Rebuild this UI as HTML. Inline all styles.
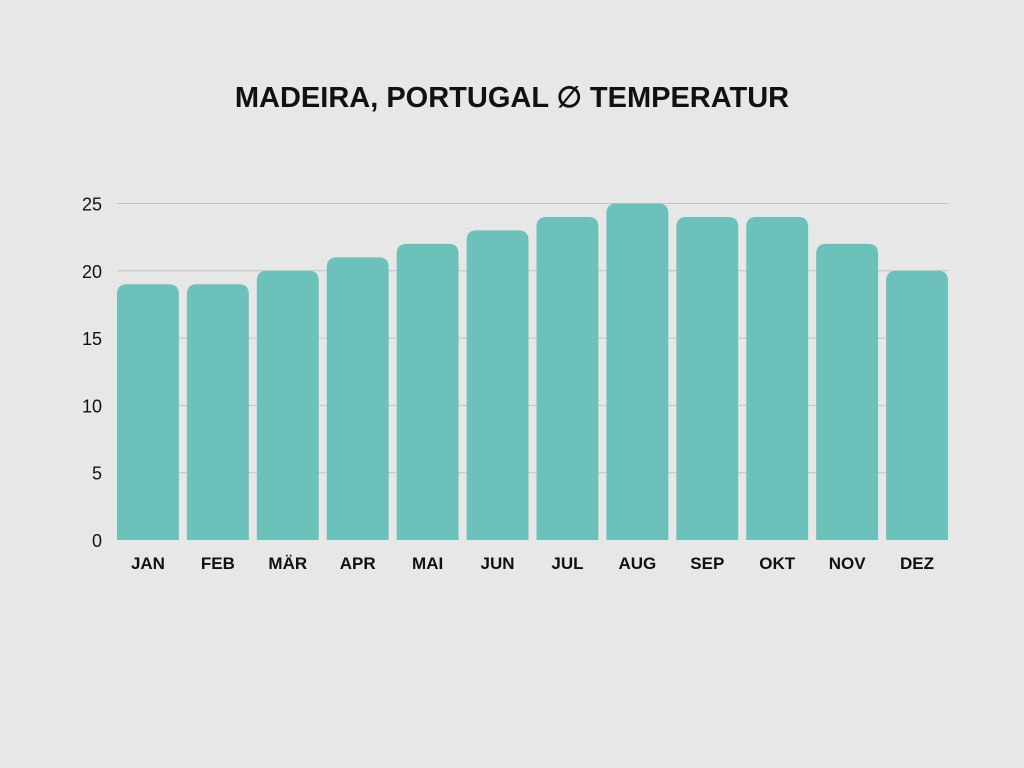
<!DOCTYPE html>
<html><head><meta charset="utf-8"><style>
body{margin:0;background:#e7e7e7;}
svg{display:block;font-family:"Liberation Sans",sans-serif;}
</style></head><body>
<svg id="chart" width="1024" height="768">
<rect width="1024" height="768" fill="#e7e7e7"/>
<text x="512" y="107" text-anchor="middle" font-size="29" font-weight="bold" fill="#111">MADEIRA, PORTUGAL ∅ TEMPERATUR</text>
<g id="grid"></g><g id="bars"></g><g id="labels"></g>
</svg>
<script>
const categories=["JAN","FEB","MÄR","APR","MAI","JUN","JUL","AUG","SEP","OKT","NOV","DEZ"];
const temps=[19,19,20,21,22,23,24,25,24,24,22,20];
const yTicks=[0,5,10,15,20,25];
const ns="http://www.w3.org/2000/svg";
const x0=117,x1=948,y0=540,yTop=203.5,yMax=25,pitch=(x1-x0+8)/categories.length,bw=pitch-8;
const y=v=>y0-(y0-yTop)*v/yMax;
const xb=i=>x0+i*pitch;
const g=document.getElementById('grid'),b=document.getElementById('bars'),l=document.getElementById('labels');
yTicks.forEach(t=>{
 if(t>0){const ln=document.createElementNS(ns,'line');
 ln.setAttribute('x1',x0);ln.setAttribute('x2',x1);ln.setAttribute('y1',y(t));ln.setAttribute('y2',y(t));
 ln.setAttribute('stroke','#c4c4c4');ln.setAttribute('stroke-width','1');
 
 
 g.appendChild(ln);}
 const tx=document.createElementNS(ns,'text');
 tx.setAttribute('x',102);tx.setAttribute('y',y(t)+7);tx.setAttribute('text-anchor','end');
 tx.setAttribute('font-size','18');tx.setAttribute('fill','#111');tx.textContent=t;
 
 
 l.appendChild(tx);
});
temps.forEach((v,i)=>{
 const top=y(v),h=y0-top,r=10,x=xb(i);
 const p=document.createElementNS(ns,'path');
 p.setAttribute('d',`M${x},${y0}V${top+r}Q${x},${top} ${x+r},${top}H${x+bw-r}Q${x+bw},${top} ${x+bw},${top+r}V${y0}Z`);
 p.setAttribute('fill','#6cc2bb');
 
 
 b.appendChild(p);
 const tx=document.createElementNS(ns,'text');
 tx.setAttribute('x',x+bw/2);tx.setAttribute('y',569);tx.setAttribute('text-anchor','middle');
 tx.setAttribute('font-size','17');tx.setAttribute('font-weight','bold');tx.setAttribute('fill','#111');
 tx.textContent=categories[i];
 
 
 l.appendChild(tx);
});
</script>
</body></html>
